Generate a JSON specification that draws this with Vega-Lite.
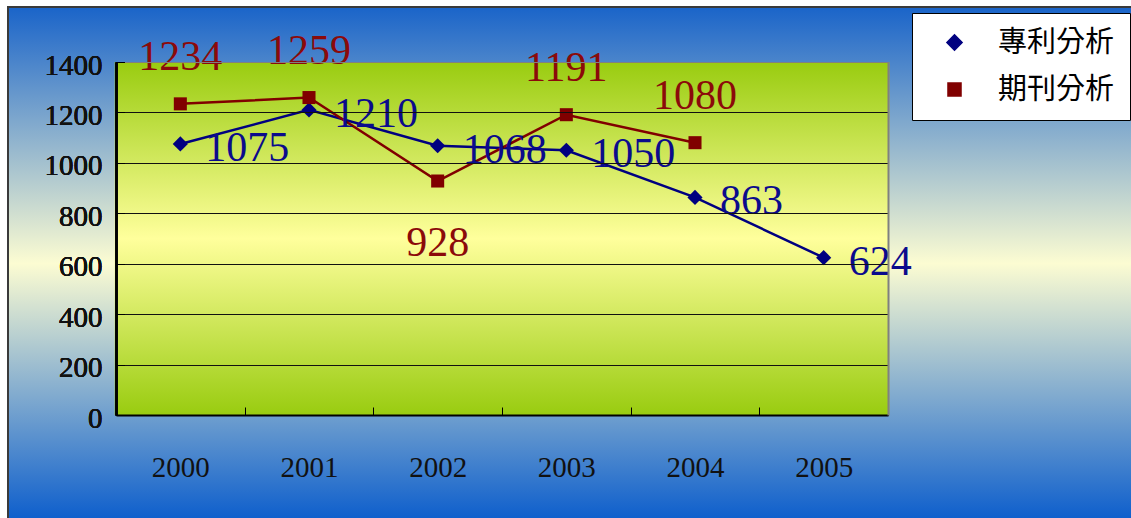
{
  "$schema": "https://vega.github.io/schema/vega-lite/v6.json",
  "width": 1125,
  "height": 513,
  "autosize": {"type": "none"},
  "padding": {"left": 8, "top": 7, "right": 0, "bottom": 0},
  "background": "white",
  "config": {"view": {"stroke": null}},
  "data": {
    "values": [
      {"year": "2000", "series": "專利分析", "value": 1075},
      {"year": "2001", "series": "專利分析", "value": 1210},
      {"year": "2002", "series": "專利分析", "value": 1068},
      {"year": "2003", "series": "專利分析", "value": 1050},
      {"year": "2004", "series": "專利分析", "value": 863},
      {"year": "2005", "series": "專利分析", "value": 624},
      {"year": "2000", "series": "期刊分析", "value": 1234},
      {"year": "2001", "series": "期刊分析", "value": 1259},
      {"year": "2002", "series": "期刊分析", "value": 928},
      {"year": "2003", "series": "期刊分析", "value": 1191},
      {"year": "2004", "series": "期刊分析", "value": 1080}
    ]
  },
  "encoding": {
    "x": {
      "field": "year",
      "type": "nominal",
      "scale": {"type": "band", "domain": ["2000", "2001", "2002", "2003", "2004", "2005"], "range": [108, 880], "paddingInner": 0, "paddingOuter": 0},
      "axis": {
        "title": null,
        "orient": "bottom",
        "offset": -105,
        "tickBand": "extent",
        "tickSize": -8,
        "tickColor": "black",
        "tickWidth": 1,
        "domainColor": "black",
        "domainWidth": 2,
        "labelFont": "Liberation Serif",
        "labelFontSize": 29,
        "labelColor": "#111111",
        "labelAngle": 0,
        "labelPadding": 46,
        "grid": false,
        "zindex": 1
      }
    },
    "y": {
      "field": "value",
      "type": "quantitative",
      "scale": {"domain": [0, 1400], "range": [408, 55], "nice": false, "zero": true},
      "axis": {
        "title": null,
        "orient": "left",
        "offset": -108,
        "values": [0, 200, 400, 600, 800, 1000, 1200, 1400],
        "format": "d",
        "tickSize": -8,
        "tickColor": "black",
        "domainColor": "black",
        "domainWidth": 2,
        "grid": true,
        "gridColor": {"condition": {"test": "datum.value === 1400", "value": "#808080"}, "value": "#111111"},
        "gridWidth": 1,
        "gridOpacity": 1,
        "labelFont": "Liberation Serif",
        "labelFontSize": 29,
        "labelColor": "#111111",
        "labelPadding": 22,
        "labelOffset": 3,
        "zindex": 1
      }
    }
  },
  "layer": [
    {
      "data": {"values": [{"frame": "outer"}]},
      "mark": {
        "type": "rect",
        "stroke": "#3a3a3a",
        "strokeWidth": 2,
        "fill": {
          "gradient": "linear", "x1": 0, "y1": 0, "x2": 0, "y2": 1,
          "stops": [
            {"offset": 0, "color": "#1a64c9"},
            {"offset": 0.5, "color": "#fcfcd2"},
            {"offset": 1, "color": "#0d5ecc"}
          ]
        }
      },
      "encoding": {"x": null, "y": null}
    },
    {
      "data": {"values": [{"year": "2000", "top": 1400}, {"year": "2001", "top": 1400}, {"year": "2002", "top": 1400}, {"year": "2003", "top": 1400}, {"year": "2004", "top": 1400}, {"year": "2005", "top": 1400}]},
      "mark": {
        "type": "bar",
        "width": {"band": 1.02},
        "opacity": 1,
        "fill": {
          "gradient": "linear", "x1": 0, "y1": 0, "x2": 0, "y2": 1,
          "stops": [
            {"offset": 0, "color": "#99cc10"},
            {"offset": 0.5, "color": "#ffff9c"},
            {"offset": 1, "color": "#99cc10"}
          ]
        }
      },
      "encoding": {
        "y": {"field": "top", "type": "quantitative", "stack": null, "axis": {
          "title": null,
          "orient": "right",
          "offset": -245,
          "labels": false,
          "ticks": false,
          "grid": false,
          "domainColor": "#808080",
          "domainWidth": 2,
          "zindex": 1
        }}
      }
    },
    {
      "mark": {"type": "line", "strokeWidth": 2.5},
      "encoding": {
        "color": {
          "field": "series",
          "type": "nominal",
          "scale": {"domain": ["專利分析", "期刊分析"], "range": ["#000080", "#800000"]},
          "legend": {
            "title": null,
            "orient": "none",
            "legendX": 904,
            "legendY": 6,
            "fillColor": "white",
            "strokeColor": "black",
            "padding": 15,
            "symbolSize": 900,
            "symbolOffset": 13,
            "labelOffset": 29,
            "rowPadding": 17,
            "labelFont": "Noto Sans CJK TC",
            "labelFontSize": 29,
            "labelColor": "black",
            "labelLimit": 300
          }
        }
      }
    },
    {
      "mark": {"type": "point", "filled": true, "opacity": 1},
      "encoding": {
        "color": {"field": "series", "type": "nominal"},
        "shape": {
          "field": "series",
          "type": "nominal",
          "scale": {"domain": ["專利分析", "期刊分析"], "range": ["diamond", "square"]},
          "legend": null
        },
        "size": {
          "field": "series",
          "type": "nominal",
          "scale": {"domain": ["專利分析", "期刊分析"], "range": [230, 170]},
          "legend": null
        }
      }
    },
    {
      "transform": [{"filter": "datum.series === '期刊分析' && datum.year !== '2002'"}],
      "mark": {"type": "text", "font": "Liberation Serif", "fontSize": 42, "baseline": "middle", "align": "center", "dy": -47, "color": "#8b0a0a"},
      "encoding": {"text": {"field": "value", "type": "quantitative"}}
    },
    {
      "transform": [{"filter": "datum.series === '期刊分析' && datum.year === '2002'"}],
      "mark": {"type": "text", "font": "Liberation Serif", "fontSize": 42, "baseline": "middle", "align": "center", "dy": 62, "color": "#8b0a0a"},
      "encoding": {"text": {"field": "value", "type": "quantitative"}}
    },
    {
      "transform": [{"filter": "datum.series === '專利分析'"}],
      "mark": {"type": "text", "font": "Liberation Serif", "fontSize": 42, "baseline": "middle", "align": "left", "dx": 25, "dy": 4, "color": "#0b0b8c"},
      "encoding": {"text": {"field": "value", "type": "quantitative"}}
    }
  ]
}
